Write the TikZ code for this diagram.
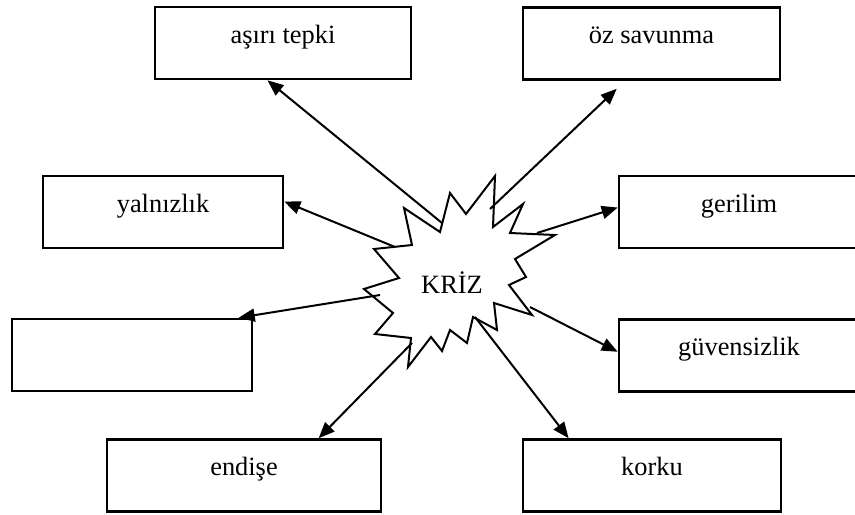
\documentclass[tikz,border=0pt]{standalone}
\usepackage{fontspec}
\setmainfont{Liberation Serif}
\usetikzlibrary{calc,arrows.meta}

\tikzset{
	kutu/.style={draw, line width=1.3pt, minimum height=36pt, inner sep=0pt, text height=1ex, text depth=1ex},
	ok/.style={line width=1pt, -{Triangle[length=8pt,width=6.5pt]}}
}

\begin{document}
\begin{tikzpicture}[x=0.5pt,y=-0.5pt,font=\fontsize{13.2}{16}\selectfont]
	\useasboundingbox (0,0) rectangle (855,514);
	% kutular
	\node[kutu,minimum width=128pt] (tepki) at (283,43) {aşırı tepki};
	\node[kutu,minimum width=128.5pt] (savunma) at (651.5,43.5) {öz savunma};
	\node[kutu,minimum width=120pt] (yalniz) at (163,212) {yalnızlık};
	\node[kutu,minimum width=120pt] (gerilim) at (739,212) {gerilim};
	\node[kutu,minimum width=120pt] (bos) at (132,355) {};
	\node[kutu,minimum width=120pt] (guven) at (739,355.5) {güvensizlik};
	\node[kutu,minimum width=137pt] (endise) at (244,475.5) {endişe};
	\node[kutu,minimum width=129pt] (korku) at (652,475.5) {korku};

	% patlama
	\draw[line width=1pt] (495,176) -- (493,227) -- (523,204) -- (510,233) -- (555,235)
		-- (515,259) -- (526,277) -- (509,285) -- (532,315) -- (494,303) -- (497,330)
		-- (473,317) -- (467,343) -- (450,330) -- (442,351) -- (431,337) -- (408,367)
		-- (411,338) -- (375,334) -- (393,313) -- (364,289) -- (399,278) -- (374,249)
		-- (412,245) -- (404,208) -- (440,232) -- (450,193) -- (466,214) -- cycle;
	\node[anchor=base] (kriz) at (452,293) {KRİZ};

	% ok uclari
	\coordinate (s1) at (442,223);
	\coordinate (s2) at (490,209);
	\coordinate (s3) at (537,233);
	\coordinate (s4) at (395,247);
	\coordinate (s5) at (380,295);
	\coordinate (s6) at (530,307);
	\coordinate (s7) at (412,343);
	\coordinate (s8) at (475,317);
	\coordinate (t1) at ($(tepki.south west)!0.44!(tepki.south east)$);
	\coordinate (t2) at ($(savunma.south west)!0.366!(savunma.south east)+(0,8)$);
	\coordinate (t3) at ($(gerilim.north west)!0.44!(gerilim.south west)$);
	\coordinate (t4) at ($(yalniz.north east)!0.36!(yalniz.south east)$);
	\coordinate (t5) at ($(bos.north west)!0.94!(bos.north east)$);
	\coordinate (t6) at ($(guven.north west)!0.45!(guven.south west)$);
	\coordinate (t7) at ($(endise.north west)!0.77!(endise.north east)$);
	\coordinate (t8) at ($(korku.north west)!0.18!(korku.north east)$);
	\foreach \i in {1,...,8} {
		\draw[ok] (s\i) -- (t\i);
	}
\end{tikzpicture}
\end{document}
